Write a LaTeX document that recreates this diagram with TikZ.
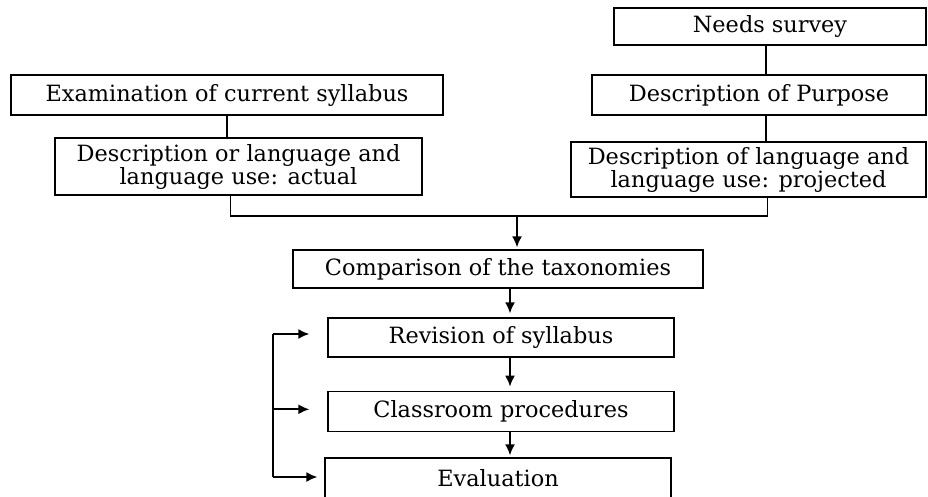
\documentclass[tikz,border=0pt]{standalone}
\usepackage{fontspec}
\setmainfont{DejaVu Serif}
\usetikzlibrary{arrows.meta, positioning}

\begin{document}
\begin{tikzpicture}[x=1pt, y=-1pt,
      stagebox/.style={draw, line width=1.3pt, align=center, inner sep=1pt,
                       font=\fontsize{22.4}{23}\selectfont},
      link/.style={line width=1.8pt},
      arr/.style={-{Latex[length=11pt, width=10pt]}, line width=1.8pt, shorten >=4pt}
    ]
    \useasboundingbox (0,0) rectangle (928,497);
    % left branch
    \node[stagebox, minimum width=432pt, minimum height=40pt] (exam) at (227,95) {Examination of current syllabus};
    \node[stagebox, minimum width=367pt, minimum height=57pt] (actual) at (238.5,166.5)
          {Description or language and\\language use: actual};
    % right branch
    \node[stagebox, minimum width=312pt, minimum height=37pt] (needs) at (770,26.5) {Needs survey};
    \node[stagebox, minimum width=334pt, minimum height=40pt] (purpose) at (759,95) {Description of Purpose};
    \node[stagebox, minimum width=355pt, minimum height=55pt] (projected) at (748.5,169.5)
          {Description of language and\\language use: projected};
    % centre column
    \node[stagebox, minimum width=410pt, minimum height=38pt] (compare) at (498,269) {Comparison of the taxonomies};
    \node[stagebox, minimum width=346pt, minimum height=39pt] (revision) at (501,337.5) {Revision of syllabus};
    \node[stagebox, minimum width=346pt, minimum height=40pt, below=33pt of revision] (classroom) {Classroom procedures};
    \node[stagebox, minimum width=346pt, minimum height=40pt] (evaluation) at (498,478) {Evaluation};

    \coordinate (merge) at (517,216);
    \coordinate (fbtop) at (273,334);
    \coordinate (fbbot) at (273,477);

    \draw[link] (exam.south) -- (exam.south |- actual.north);
    \draw[link] ([xshift=-4pt]needs.south) -- ([xshift=-4pt]needs.south |- purpose.north);
    \draw[link] ([xshift=7pt]purpose.south) -- ([xshift=7pt]purpose.south |- projected.north);
    \draw[link] ([xshift=-8pt]actual.south) |- (merge) -| ([xshift=19pt]projected.south);
    \draw[arr, shorten >=2pt] (merge) -- (merge |- compare.north);
    \draw[arr] ([xshift=12pt]compare.south) -- ([xshift=9pt]revision.north);
    \draw[arr] ([xshift=9pt]revision.south) -- ([xshift=9pt]classroom.north);
    \draw[arr, shorten >=2pt] ([xshift=9pt]classroom.south) -- ([xshift=12pt]evaluation.north);
    % feedback loop
    \draw[link] (fbtop) -- (fbbot);
    \draw[arr, shorten >=18pt] (fbtop) -- (fbtop -| revision.west);
    \draw[arr, shorten >=18pt] ([yshift=2pt]fbtop |- classroom) -- ([yshift=2pt]classroom.west);
    \draw[arr, shorten >=7pt] (fbbot) -- (fbbot -| evaluation.west);
  \end{tikzpicture}
\end{document}
